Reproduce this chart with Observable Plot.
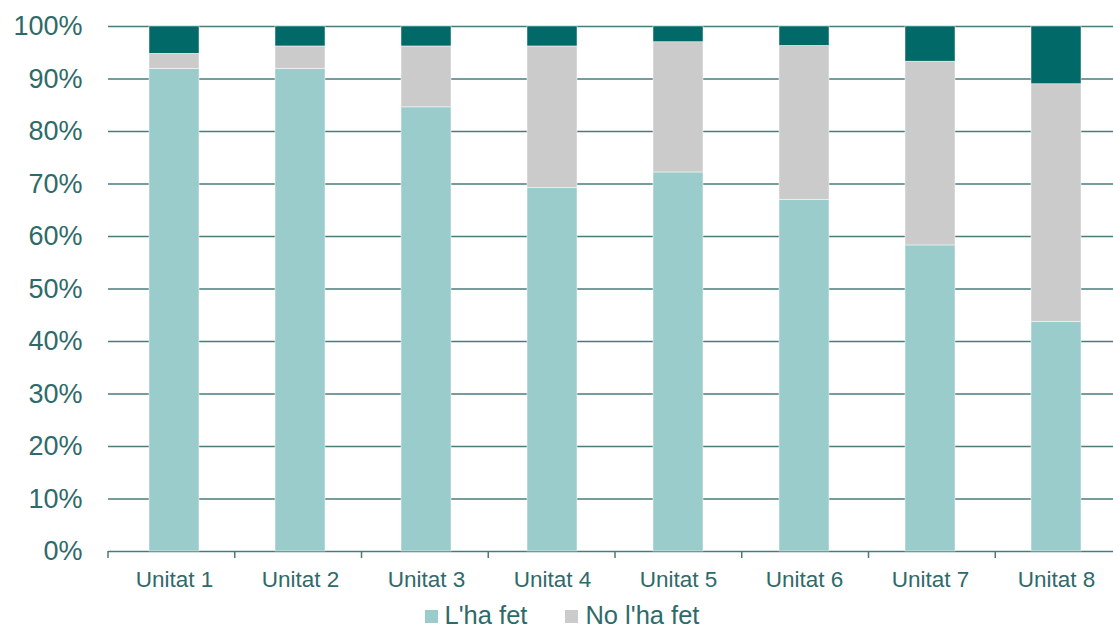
<!DOCTYPE html>
<html>
<head>
<meta charset="utf-8">
<script src="https://cdn.jsdelivr.net/npm/d3@7"></script>
<script src="https://cdn.jsdelivr.net/npm/@observablehq/plot@0.6"></script>
<style>
  html, body { margin: 0; padding: 0; background: #ffffff; }
  #chart svg { display: block; }
  #legend {
    display: flex; justify-content: center; align-items: center;
    height: 22px; margin-left: 11px;
    font-family: "Liberation Sans", Arial, sans-serif; font-size: 25.5px; line-height: 1; color: #2E6A6A;
  }
  .item { display: flex; align-items: center; }
  .item + .item { margin-left: 38px; }
  .sw { width: 13px; height: 13px; margin-right: 7px; }
</style>
</head>
<body>
<div id="chart"></div>
<div id="legend"></div>
<script>
const units = ["Unitat 1", "Unitat 2", "Unitat 3", "Unitat 4", "Unitat 5", "Unitat 6", "Unitat 7", "Unitat 8"];
const series = ["L'ha fet", "No l'ha fet", "Sense resposta"];
const colors = ["#9BCCCC", "#CBCBCB", "#016968"];
const legendSeries = ["L'ha fet", "No l'ha fet"];
const fet =     [0.919, 0.919, 0.846, 0.692, 0.722, 0.670, 0.583, 0.437];
const noFet =   [0.029, 0.043, 0.116, 0.270, 0.248, 0.293, 0.350, 0.453];
const senseRes= [0.052, 0.038, 0.038, 0.038, 0.030, 0.037, 0.067, 0.110];
const yTicks = [0, 0.1, 0.2, 0.3, 0.4, 0.5, 0.6, 0.7, 0.8, 0.9, 1];

const rows = [];
units.forEach((u, i) => {
  rows.push({unit: u, series: series[0], value: fet[i]});
  rows.push({unit: u, series: series[1], value: noFet[i]});
  rows.push({unit: u, series: series[2], value: senseRes[i]});
});

const textColor = "#2E6A6A";
const gridColor = "#4A7B7B";

const plot = Plot.plot({
  width: 1113,
  height: 605,
  marginLeft: 108,
  marginRight: 0,
  marginTop: 26,
  marginBottom: 54,
  style: {fontFamily: "Liberation Sans, Arial, sans-serif", color: textColor, background: "#ffffff"},
  x: {domain: units, range: [108, 1122], paddingInner: 0.6, paddingOuter: 0.3, label: null, tickSize: 0, tickPadding: 20},
  y: {domain: [0, 1], ticks: yTicks, tickFormat: d3.format(".0%"), label: null, tickSize: 0, tickPadding: 26},
  color: {domain: series, range: colors},
  marks: [
    Plot.ruleY(yTicks, {y: d => d, stroke: gridColor, strokeWidth: 1.5}),
    Plot.barY(rows, {x: "unit", y: "value", fill: "series", order: series, stroke: "#ffffff", strokeWidth: 0.6, strokeOpacity: 0.8})
  ]
});

d3.select(plot).selectAll("g[aria-label^='x-axis']").attr("font-size", "22.5px");
d3.select(plot).selectAll("g[aria-label^='x-axis'] text").style("font-size", "22.5px");
d3.select(plot).selectAll("g[aria-label^='y-axis']").attr("font-size", "27px");
d3.select(plot).selectAll("g[aria-label^='y-axis'] text").style("font-size", "27px");

// Category boundary ticks from the library's x scale
const xs = plot.scale("x");
const ys = plot.scale("y");
const band = d3.scaleBand().domain(xs.domain).range(xs.range)
  .paddingInner(xs.paddingInner).paddingOuter(xs.paddingOuter).align(xs.align ?? 0.5);
const gap = (band.step() - band.bandwidth()) / 2;
const bounds = units.map(u => band(u) - gap);
bounds.push(band(units[units.length - 1]) + band.bandwidth() + gap);
const yBase = d3.max(ys.range);
d3.select(plot).append("g").selectAll("line").data(bounds).join("line")
  .attr("x1", d => d).attr("x2", d => d)
  .attr("y1", yBase).attr("y2", yBase + 7)
  .attr("stroke", gridColor).attr("stroke-width", 1.5);

document.getElementById("chart").appendChild(plot);

const legend = document.getElementById("legend");
legendSeries.forEach(s => {
  const it = document.createElement("div");
  it.className = "item";
  const sw = document.createElement("div");
  sw.className = "sw";
  sw.style.background = colors[series.indexOf(s)];
  const tx = document.createElement("span");
  tx.textContent = s;
  it.appendChild(sw); it.appendChild(tx);
  legend.appendChild(it);
});
</script>
</body>
</html>
